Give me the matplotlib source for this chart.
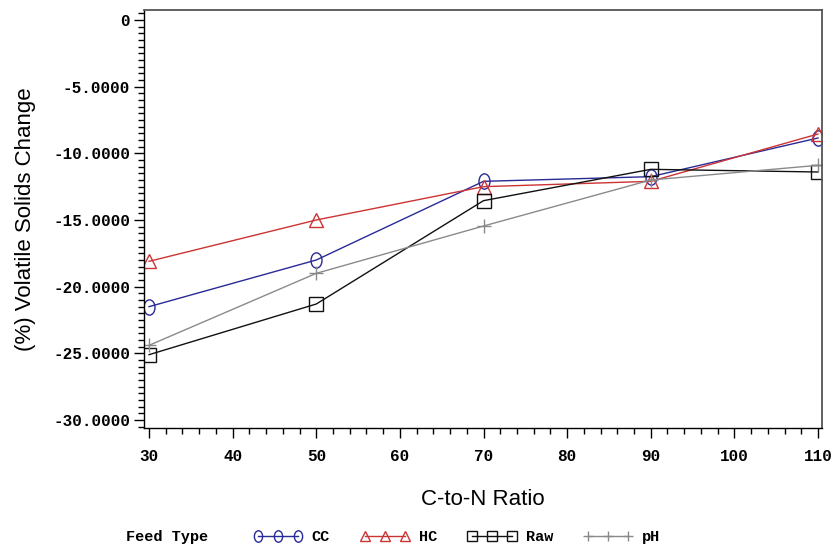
import numpy as np
import matplotlib
matplotlib.use('Agg')
import matplotlib.pyplot as plt
from matplotlib.path import Path
from matplotlib.font_manager import FontProperties
from matplotlib.ticker import FixedLocator, FixedFormatter, MultipleLocator

# C-to-N ratios tested and the change in volatile solids for each feed type
ratios = [30, 50, 70, 90, 110]
cc = [-21.5, -18.0, -12.1, -11.75, -8.85]
hc = [-18.1, -15.0, -12.5, -12.1, -8.55]
raw = [-25.1, -21.3, -13.55, -11.2, -11.4]
ph = [-24.4, -19.0, -15.45, -12.0, -10.9]

feed_types = ['CC', 'HC', 'Raw', 'pH']
ytick_vals = [-30, -25, -20, -15, -10, -5, 0]
ytick_labels = ['-30.0000', '-25.0000', '-20.0000', '-15.0000',
                '-10.0000', '-5.0000', '0']
xtick_vals = [30, 40, 50, 60, 70, 80, 90, 100, 110]

# tall oval marker for the circles
circ = Path.unit_circle()
oval = Path(circ.vertices * np.array([0.72, 1.0]), circ.codes)

fig = plt.figure(figsize=(8.34, 5.46), dpi=100)
ax = fig.add_axes([0.1727, 0.2161, 0.8129, 0.7656])

tick_font = dict(family='Liberation Mono', weight='bold', size=11.5)

styles = [
    (cc, '#2a2a96', oval, 11),
    (hc, '#cc3333', '^', 9.5),
    (raw, '#111111', 's', 9.5),
    (ph, '#8a8a8a', '+', 10),
]
for (vals, col, mk, ms), name in zip(styles, feed_types):
    ax.plot(ratios, vals, color=col, lw=1.0, marker=mk, ms=ms,
            mfc='none', mec=col, mew=1.0, label=name)

ax.set_xlim(29.4, 110.48)
ax.set_ylim(-30.6, 0.75)

ax.yaxis.set_major_locator(FixedLocator(ytick_vals))
ax.yaxis.set_major_formatter(FixedFormatter(ytick_labels))
ax.yaxis.set_minor_locator(MultipleLocator(0.5))
ax.xaxis.set_major_locator(FixedLocator(xtick_vals))
ax.xaxis.set_minor_locator(MultipleLocator(2))

ax.tick_params(which='major', direction='out', length=7, width=1.0, color='black', pad=3)
ax.tick_params(which='minor', direction='out', length=4, width=1.0, color='black')
ax.tick_params(axis='x', which='major', pad=8)
for lab in ax.get_xticklabels() + ax.get_yticklabels():
    lab.set_fontproperties(FontProperties(**tick_font))

for side in ['top', 'right']:
    ax.spines[side].set_color('#555555')
    ax.spines[side].set_linewidth(1.3)
for side in ['left', 'bottom']:
    ax.spines[side].set_color('black')
    ax.spines[side].set_linewidth(1.0)

ax.set_ylabel('(%) Volatile Solids Change', family='Liberation Sans', size=16, labelpad=12)
ax.set_xlabel('C-to-N Ratio', family='Liberation Sans', size=16, labelpad=18)

fig.text(126 / 834, 1 - 537 / 546, 'Feed Type', family='Liberation Mono',
         weight='bold', size=11, va='center', ha='left')
leg = fig.legend(loc='center left', bbox_to_anchor=(240 / 834, 1 - 537 / 546),
                 ncol=4, numpoints=3, frameon=False, handlelength=3.2,
                 columnspacing=2.0, handletextpad=0.6, markerscale=0.75,
                 prop=dict(family='Liberation Mono', weight='bold', size=11))

fig.savefig('out.png', dpi=100, facecolor='white')
